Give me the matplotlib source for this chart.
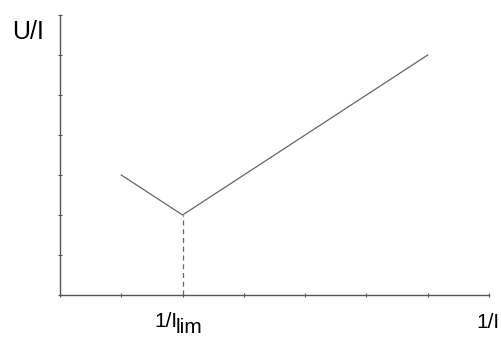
import matplotlib.pyplot as plt

plt.rcParams['font.family'] = ['Liberation Sans', 'DejaVu Sans']

# curve U/I vs 1/I (arbitrary units, one unit per tick)
x_curve = [1, 2, 6]
y_curve = [3, 2, 6]
# the limit point with a dashed drop line
x_lim = 2
y_lim = 2
ticks = [0, 1, 2, 3, 4, 5, 6, 7]

W, H = 501, 338
fig = plt.figure(figsize=(W / 100, H / 100), dpi=100)
ax = fig.add_axes([60 / W, 43 / H, 429 / W, 280 / H])

ax.plot(x_curve, y_curve, color='#666666', lw=0.9)
ax.plot([x_lim, x_lim], [0, y_lim], color='#666666', lw=0.9, ls=(0, (4, 3)))

ax.set_xlim(0, 7)
ax.set_ylim(0, 7)
ax.set_xticks(ticks)
ax.set_yticks(ticks)
ax.set_xticklabels([])
ax.set_yticklabels([])
ax.tick_params(direction='inout', length=3, width=0.8, color='#555555')

for s in ['top', 'right']:
    ax.spines[s].set_visible(False)
for s in ['left', 'bottom']:
    ax.spines[s].set_color('#555555')
    ax.spines[s].set_linewidth(1.0)

fig.text(12 / W, 1 - 39 / H, 'U/I', fontsize=18, va='baseline', ha='left')
fig.text(154 / W, 1 - 327 / H, '1/I', fontsize=15, va='baseline', ha='left')
fig.text(176 / W, 1 - 337 / H, 'lim', fontsize=15, va='bottom', ha='left')
fig.text(499 / W, 1 - 328 / H, '1/I', fontsize=15, va='baseline', ha='right')

fig.savefig('out.png', dpi=100)
